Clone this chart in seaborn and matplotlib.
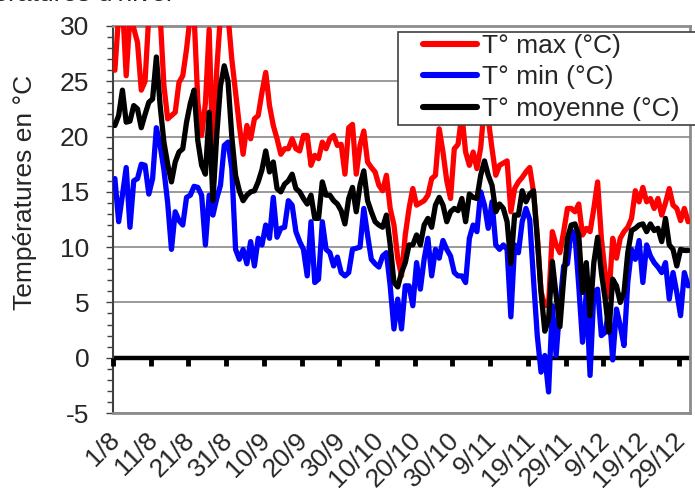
import numpy as np
import pandas as pd
import matplotlib
matplotlib.use("Agg")
import matplotlib.pyplot as plt
import matplotlib.transforms as mtransforms
from matplotlib.patches import Rectangle
import seaborn as sns

# Données journalières du 1/8 au 31/12
etiquettes = ["1/8", "11/8", "21/8", "31/8", "10/9", "20/9", "30/9", "10/10",
              "20/10", "30/10", "9/11", "19/11", "29/11", "9/12", "19/12", "29/12"]

t_max = [26, 31, 32, 25.5, 31, 29.8, 28.5, 24.2, 25, 31,
         32, 33, 31, 24.6, 21.6, 21.9, 22.2, 24.9, 25.5, 27.9,
         31, 31, 23.1, 20.1, 23, 29.7, 18, 26, 31, 32,
         31, 27, 24, 21, 18.4, 21, 19.8, 21.6, 21.9, 24,
         25.8, 22.8, 21, 19.8, 18.4, 18.9, 18.9, 19.8, 18.9, 18.7,
         20.1, 20.1, 17.4, 18.3, 18, 19.5, 18.9, 19.8, 20.1, 19.2,
         19.3, 16.6, 20.8, 21.1, 16.6, 19.2, 20.5, 17.7, 17.2, 16.8,
         15.6, 15.1, 16.5, 13.5, 12, 9, 7.4, 11.1, 13.5, 15.3,
         13.8, 14, 14.2, 14.7, 16.2, 16.5, 20.7, 18.6, 16, 14.4,
         18.9, 19.3, 22, 18.6, 17.4, 18.6, 17.1, 19, 23, 21.6,
         18.9, 16.5, 17.4, 17.6, 17.8, 13.2, 15.3, 15.9, 16.3, 16.8,
         17.2, 15, 11.1, 6, 4.7, 4.8, 11.4, 10.2, 9.5, 11.4,
         13.5, 13.5, 13.2, 13.9, 11.1, 11.7, 11.4, 13.5, 15.9, 10.8,
         7.7, 5.5, 10.8, 9, 10.8, 11.4, 11.8, 12.6, 15.1, 14.1,
         15.4, 14.1, 14.4, 13.5, 14.4, 12.9, 14, 15.3, 13.8, 13.5,
         12.4, 13.5, 12.3]

t_min = [16.2, 12.3, 14.7, 17.2, 11.8, 16, 16.2, 17.5, 17.4, 14.8,
         16.2, 20.8, 19.2, 17, 14, 9.8, 13.2, 12.4, 12, 14.5,
         14.7, 15.5, 15.4, 14.7, 10.2, 14.7, 12.9, 14.4, 15.6, 19.2,
         19.5, 17.1, 9.8, 8.9, 9.8, 8.5, 10.5, 8.3, 10.8, 10.2,
         12, 10.8, 14.5, 10.9, 11.7, 11.8, 14.2, 13.8, 11.4, 10.5,
         9.8, 7.4, 12.3, 6.8, 7.1, 12.3, 9.8, 9.5, 8.3, 9.1,
         7.7, 7.4, 7.7, 9.8, 9.9, 10, 13.5, 11.1, 8.9, 8.5,
         8.2, 9.2, 9.5, 6.5, 2.6, 5.3, 2.6, 6.5, 6.5, 4.7,
         8.6, 6.2, 8.9, 10.8, 7.4, 9.8, 9, 10.6, 9.8, 9.2,
         7.7, 7.4, 7.4, 6.8, 10.8, 12, 11.4, 15, 13.8, 11.7,
         14.1, 10.2, 9.8, 10.2, 9.8, 3.7, 10.2, 9.5, 12.3, 13.5,
         12.5, 7.1, 2, -1.3, 0.2, -3.1, 4.7, 0.2, 4.7, 8.3,
         8.5, 11.5, 11.1, 6.5, 1.4, 5.9, -1.6, 5.9, 6.2, 2,
         2.3, 4.4, -0.2, 4.4, 2.9, 1.1, 6.8, 9.8, 8.9, 10.6,
         6.8, 10.2, 9.2, 8.6, 8.2, 7.7, 8.6, 5.3, 7.7, 5.9,
         3.8, 7.7, 6.5]

t_moy = [21, 21.9, 24.2, 21.3, 21.4, 22.8, 22.5, 20.8, 22, 23.1,
         23.4, 27.2, 22.8, 19.5, 17.5, 15.9, 17.7, 18.6, 18.9, 21.3,
         23, 24.2, 19.6, 17.4, 16.6, 22.2, 14.2, 20.1, 24.6, 26.4,
         25, 20, 16.5, 15.1, 14.2, 14.7, 15, 15.1, 15.9, 17,
         18.7, 16.8, 17.7, 15.3, 15, 15.7, 16, 16.6, 15.3, 15,
         14.4, 13.9, 14.7, 12.6, 12.6, 15.9, 14.7, 14.7, 14.2, 13.9,
         13.3, 12.1, 14.4, 15.4, 13.2, 15.6, 16.9, 14.2, 13.2, 12.3,
         12, 11.8, 12.9, 10.2, 6.8, 6.4, 7.7, 8.6, 10.2, 10.2,
         11.1, 10.2, 12, 12.6, 11.8, 13.8, 14.5, 13.8, 12.3, 13.2,
         13.5, 13.3, 14.4, 12.3, 14.8, 14.5, 14.4, 16.5, 17.8, 16.5,
         15.6, 13.2, 13.9, 13.5, 12.3, 8.5, 12.9, 12.9, 15.1, 14.1,
         14.8, 15.1, 10.8, 5.9, 2.4, 3.5, 8.7, 5.6, 2.8, 7.1,
         10.8, 12, 12.1, 11.1, 5.9, 8.6, 3.8, 8.6, 10.9, 7.7,
         5.3, 2.3, 7.1, 6.5, 5, 5.9, 9.5, 11.5, 11.7, 12,
         12.1, 11.4, 12.1, 11.5, 11.7, 10.5, 12.6, 10.2, 9.8, 8.3,
         9.8, 9.7, 9.7]

jours = np.arange(len(t_max))
df = pd.DataFrame({"jour": jours, "max": t_max, "min": t_min, "moy": t_moy})

sns.set_style("white")
plt.rcParams["font.family"] = ["Liberation Sans", "DejaVu Sans"]
plt.rcParams["axes.unicode_minus"] = False

fig = plt.figure(figsize=(6.95, 4.9), dpi=100)
ax = fig.add_axes([113 / 695, 1 - 413 / 490, 577 / 695, 387 / 490])

lw = 3.8
sns.lineplot(data=df, x="jour", y="max", color="#ff0000", lw=lw, ax=ax, label="T° max (°C)", zorder=3)
sns.lineplot(data=df, x="jour", y="min", color="#0000ff", lw=lw, ax=ax, label="T° min (°C)", zorder=3)
sns.lineplot(data=df, x="jour", y="moy", color="#000000", lw=lw, ax=ax, label="T° moyenne (°C)", zorder=3)
handles, labels = ax.get_legend_handles_labels()
ax.get_legend().remove()

ax.set_xlim(-0.5, len(jours) - 0.5)
ax.set_ylim(-5, 30)
ax.set_xlabel("")
ax.set_ylabel("")

# grille et cadre
ax.set_yticks(np.arange(-5, 31, 5))
ax.set_yticks(np.arange(-5, 31, 1), minor=True)
ax.grid(axis="y", which="major", color="#7f7f7f", lw=1.1)
ax.grid(axis="x", visible=False)
for s in ["top", "right", "bottom"]:
    ax.spines[s].set_color("#8c8c8c")
    ax.spines[s].set_linewidth(2)
ax.spines["left"].set_color("#404040")
ax.spines["left"].set_linewidth(1.5)
ax.tick_params(axis="y", which="major", direction="out", length=5, width=1,
               color="#404040", labelsize=19, pad=12, left=True)
ax.tick_params(axis="y", which="minor", direction="out", length=4, width=1,
               color="#404040", left=True)

# étiquettes des dates en bas
pos = np.arange(0, len(jours), 10) - 0.5
ax.set_xticks(pos)
ax.set_xticklabels(etiquettes, rotation=45, ha="right", va="center",
                   rotation_mode="anchor", fontsize=19)
ax.tick_params(axis="x", length=0, pad=17, bottom=True)
decalage = mtransforms.ScaledTranslation(3 / 100, 0, fig.dpi_scale_trans)
for t in ax.get_xticklabels():
    t.set_transform(t.get_transform() + decalage)

# axe horizontal épais à 0 °C avec ses graduations
ax.axhline(0, color="black", lw=3.2, zorder=2)
sec = ax.secondary_xaxis(5 / 35)
sec.set_zorder(4)
sec.set_xticks(pos)
sec.tick_params(axis="x", direction="out", length=5.5, width=3.5, color="black",
                labelbottom=False)
sec.spines["bottom"].set_visible(False)

fig.text(25 / 695, 1 - 192 / 490, "Températures en °C", rotation=90,
         ha="center", va="center", fontsize=19)
fig.text(175 / 695, 1 - 1 / 490, "Températures d'hiver", ha="right",
         va="baseline", fontsize=19)

# légende
cadre = Rectangle((398 / 695, 1 - 125 / 490), 310 / 695, 93 / 490,
                  transform=fig.transFigure, facecolor="white",
                  edgecolor="#404040", lw=1.2, zorder=5)
fig.patches.append(cadre)
leg = fig.legend(handles, labels, loc="upper left",
                 bbox_to_anchor=(423 / 695, 1 - 34 / 490), frameon=False,
                 fontsize=19, borderpad=0, borderaxespad=0, labelspacing=0.28,
                 handlelength=2.05, handletextpad=0.2)
leg.set_zorder(10)
for h in leg.get_lines():
    h.set_linewidth(lw + 0.6)

fig.savefig("out.png", dpi=100)
